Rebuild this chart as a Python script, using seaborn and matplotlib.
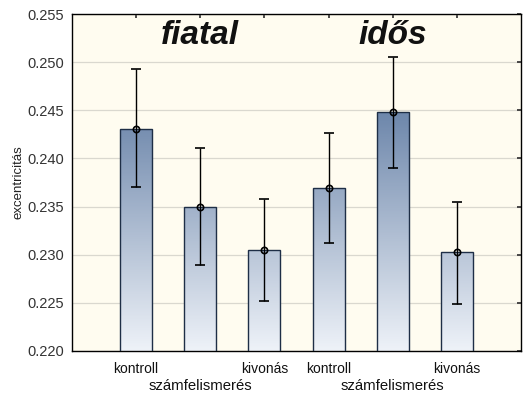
import numpy as np
import pandas as pd
import matplotlib
matplotlib.use("Agg")
import matplotlib.pyplot as plt
import seaborn as sns
from matplotlib.colors import LinearSegmentedColormap

# data
groups = ["fiatal", "idős"]
conditions = ["kontroll", "számfelismerés", "kivonás"]
means = [0.2431, 0.2350, 0.2305, 0.2369, 0.2448, 0.2303]
lower = [0.2370, 0.2289, 0.2252, 0.2312, 0.2390, 0.2249]
upper = [0.2493, 0.2411, 0.2358, 0.2426, 0.2505, 0.2355]
yticks = [0.220, 0.225, 0.230, 0.235, 0.240, 0.245, 0.250, 0.255]

labels = [f"{g}_{c}" for g in groups for c in conditions]
df = pd.DataFrame({"label": labels, "value": means})

sns.set_theme(style="white")
plt.rcParams['font.family'] = ['Liberation Sans', 'DejaVu Sans']

fig = plt.figure(figsize=(5.32, 3.98), dpi=100)
ax = fig.add_axes([72/532, 1-351/398, 449/532, 337/398])
ax.set_facecolor("#fffcf0")

sns.barplot(data=df, x="label", y="value", ax=ax, width=0.5,
            color="#8ea3c0", edgecolor="#1e2e46", linewidth=1.0,
            errorbar=None, zorder=2)

ymin, ymax = 0.220, 0.255
ax.set_ylim(ymin, ymax)
ax.set_xlim(-1, len(labels))

# gradient fill clipped to bars
cmap = LinearSegmentedColormap.from_list("g", ["#eef2f8", "#6a84a9"])
gimg = np.clip((np.linspace(ymin, ymax, 256) - ymin) / (0.2455 - ymin), 0, 1).reshape(-1, 1)
for p in ax.patches:
    im = ax.imshow(gimg, cmap=cmap, vmin=0, vmax=1, aspect="auto", origin="lower",
                   extent=[-1, len(labels), ymin, ymax], zorder=2.5, interpolation="bilinear")
    im.set_clip_path(p)
    p.set_facecolor("none")
    p.set_zorder(3)
ax.set_xlim(-1, len(labels))
ax.set_ylim(ymin, ymax)

# error bars
x = np.arange(len(labels))
m = np.array(means)
yerr = np.vstack([m - np.array(lower), np.array(upper) - m])
ax.errorbar(x, m, yerr=yerr, fmt="o", color="black", ecolor="black",
            elinewidth=1.0, capsize=3.5, capthick=1.0, markersize=4.5,
            markerfacecolor="none", markeredgewidth=1.2, zorder=5)

ax.set_yticks(yticks)
ax.set_yticklabels([f"{t:.3f}" for t in yticks], fontsize=10.5, color="#333333")
ax.yaxis.grid(True, color="#dad8cf", linewidth=0.9, zorder=0)
ax.set_axisbelow(True)
ax.set_ylabel("excentricitás", fontsize=9.5, color="#222222", labelpad=2)
ax.set_xlabel("")
ax.set_xticks(x)
ax.set_xticklabels([""] * len(labels))
ax.tick_params(axis="x", direction="in", length=3, color="#333333", top=True)
ax.tick_params(axis="y", direction="in", length=3, color="#333333", right=True, left=False, pad=6)

for s in ax.spines.values():
    s.set_color("black")
    s.set_linewidth(1.0)

# category labels
for gi in range(len(groups)):
    base = gi * 3
    ax.text(base + 0, -0.033, conditions[0], transform=ax.get_xaxis_transform(),
            ha="center", va="top", fontsize=10, color="#111111")
    ax.text(base + 2, -0.033, conditions[2], transform=ax.get_xaxis_transform(),
            ha="center", va="top", fontsize=10, color="#111111")
    ax.text(base + 1, -0.083, conditions[1], transform=ax.get_xaxis_transform(),
            ha="center", va="top", fontsize=10.7, color="#111111")
    ax.text(base + 1, 0.935, groups[gi], transform=ax.get_xaxis_transform(),
            ha="center", va="center", fontsize=24, style="italic", fontweight="bold",
            color="#111111", zorder=6)

fig.savefig("out.png", dpi=100)
